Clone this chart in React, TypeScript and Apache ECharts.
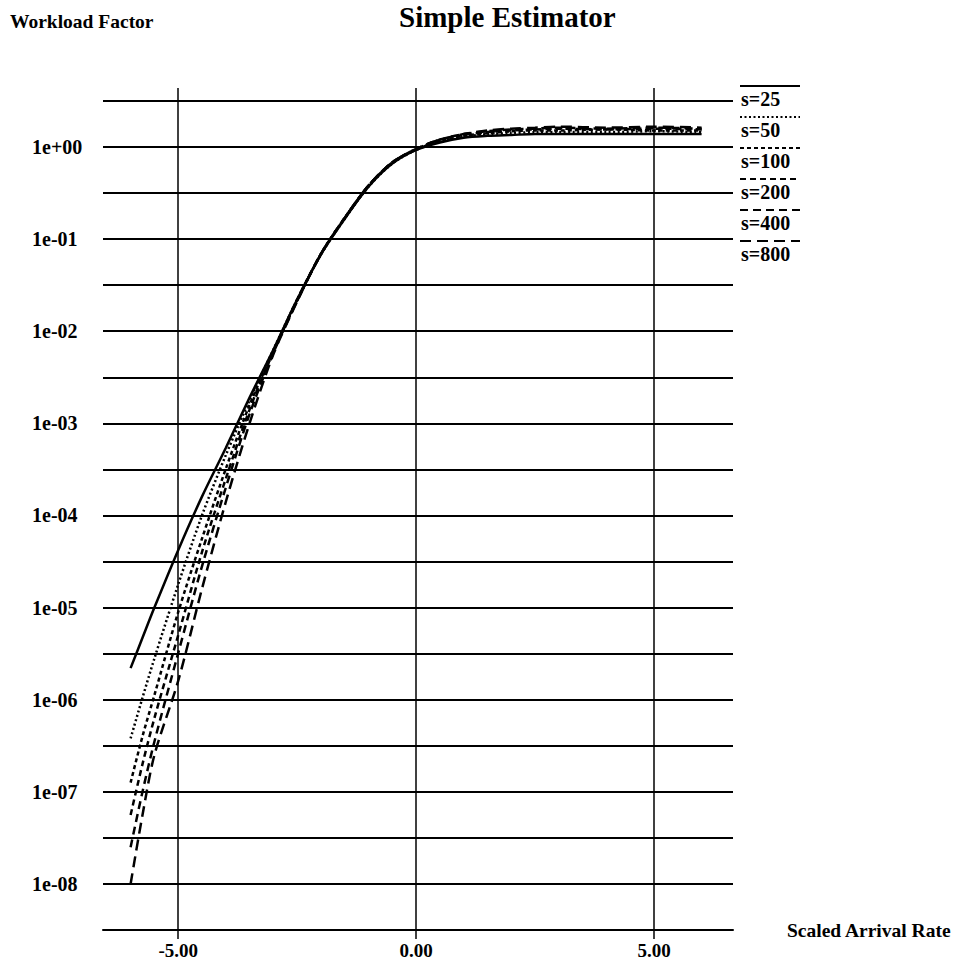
import React, { useEffect, useRef } from 'react';
import * as echarts from 'echarts';

// Scaled arrival rate (x)
const X_RATE = [-6, -5.75, -5.5, -5, -4.5, -4, -3.5, -3, -2.5, -2, -1.5, -1, -0.5, 0, 0.5, 1, 1.5, 2, 2.5, 3, 4, 5, 6];

// Workload factor for each s
const S25 = [2.2e-6, 4.7e-6, 1.0e-5, 4.2e-5, 1.6e-4, 5.4e-4, 1.9e-3, 6.3e-3, 2.2e-2, 6.8e-2, 0.166, 0.37, 0.66, 0.93, 1.12, 1.26, 1.32, 1.35, 1.38, 1.38, 1.38, 1.38, 1.38];
const S50 = [3.8e-7, 1.05e-6, 2.8e-6, 1.78e-5, 1.0e-4, 4.5e-4, 1.78e-3, 6.3e-3, 2.2e-2, 6.8e-2, 0.166, 0.37, 0.66, 0.93, 1.15, 1.29, 1.38, 1.41, 1.45, 1.45, 1.45, 1.48, 1.45];
const S100 = [1.26e-7, 4.0e-7, 1.12e-6, 8.9e-6, 5.6e-5, 3.2e-4, 1.58e-3, 6.0e-3, 2.14e-2, 6.9e-2, 0.17, 0.38, 0.68, 0.93, 1.17, 1.32, 1.41, 1.48, 1.51, 1.51, 1.55, 1.51, 1.51];
const S200 = [5.6e-8, 2.0e-7, 6.3e-7, 5.0e-6, 4.0e-5, 2.5e-4, 1.41e-3, 6.0e-3, 2.2e-2, 6.9e-2, 0.17, 0.38, 0.68, 0.95, 1.2, 1.35, 1.45, 1.51, 1.55, 1.58, 1.55, 1.58, 1.55];
const S400 = [2.5e-8, 1.0e-7, 3.5e-7, 3.2e-6, 2.8e-5, 2.0e-4, 1.26e-3, 5.8e-3, 2.14e-2, 6.9e-2, 0.17, 0.38, 0.68, 0.95, 1.2, 1.38, 1.48, 1.55, 1.58, 1.62, 1.58, 1.62, 1.58];
const S800 = [1.0e-8, 5.6e-8, 2.5e-7, 1.6e-6, 1.6e-5, 1.4e-4, 1.0e-3, 5.6e-3, 2.1e-2, 6.9e-2, 0.17, 0.38, 0.68, 0.95, 1.2, 1.38, 1.51, 1.58, 1.62, 1.66, 1.62, 1.66, 1.62];

const SERIES_NAMES = ['s=25', 's=50', 's=100', 's=200', 's=400', 's=800'];
const SERIES_VALUES = [S25, S50, S100, S200, S400, S800];

// Axis ticks
const X_TICKS = [-5, 0, 5];
const Y_GRID_EXPONENTS = [-8.5, -8, -7.5, -7, -6.5, -6, -5.5, -5, -4.5, -4, -3.5, -3, -2.5, -2, -1.5, -1, -0.5, 0, 0.5];
const Y_LABEL_EXPONENTS = [-8, -7, -6, -5, -4, -3, -2, -1, 0];

const FONT = '"Liberation Serif", "Times New Roman", serif';
const DASHES: (string | number[])[] = ['solid', [2, 2.5], [4, 3], [6, 4], [8, 5], [11, 6]];

function expLabel(v: number): string {
  if (Math.abs(v) < 1e-9) return '1e+00';
  const n = Math.round(-v);
  return '1e-' + String(n).padStart(2, '0');
}

export default function App() {
  const ref = useRef<HTMLDivElement>(null);
  useEffect(() => {
    document.body.style.margin = '0';
    if (!ref.current) return;
    const chart = echarts.init(ref.current, null, { renderer: 'svg' });

    const series = SERIES_NAMES.map((name, i) => ({
      name,
      type: 'line',
      showSymbol: false,
      smooth: 0.3,
      data: X_RATE.map((x, j) => [x, Math.log10(SERIES_VALUES[i][j])]),
      lineStyle: { color: '#000', width: 2.5, type: DASHES[i] },
      itemStyle: { color: '#000' },
    }));

    const legendGraphics: any[] = [];
    SERIES_NAMES.forEach((name, i) => {
      const y = 86 + i * 31;
      legendGraphics.push({
        type: 'line',
        shape: { x1: 740, y1: y, x2: 800, y2: y },
        style: { stroke: '#000', lineWidth: 2, lineDash: DASHES[i] === 'solid' ? null : DASHES[i] },
      });
      legendGraphics.push({
        type: 'text',
        x: 741,
        y: y + 13,
        style: {
          text: name,
          fontFamily: FONT,
          fontSize: 20,
          fontWeight: 'bold',
          fill: '#000',
          verticalAlign: 'middle',
          align: 'left',
        },
      });
    });

    chart.setOption({
      animation: false,
      backgroundColor: '#fff',
      title: [
        {
          text: 'Simple Estimator',
          left: 399,
          top: 2,
          padding: 0,
          textStyle: { fontFamily: FONT, fontSize: 29, fontWeight: 'bold', color: '#000' },
        },
        {
          text: 'Workload Factor',
          left: 10,
          top: 11,
          padding: 0,
          textStyle: { fontFamily: FONT, fontSize: 19.5, fontWeight: 'bold', color: '#000' },
        },
      ],
      grid: { left: 103, right: 226, top: 88, bottom: 29, containLabel: false },
      xAxis: {
        type: 'value',
        min: -6.58,
        max: 6.66,
        name: 'Scaled Arrival Rate',
        nameLocation: 'end',
        nameGap: 54,
        nameTextStyle: { fontFamily: FONT, fontSize: 19.5, fontWeight: 'bold', color: '#000', align: 'left', verticalAlign: 'middle', padding: [6, 0, 0, 0] },
        axisLine: { show: true, onZero: false, lineStyle: { color: '#000', width: 2 } },
        axisTick: { show: true, customValues: X_TICKS, length: 9, lineStyle: { color: '#000', width: 1.5 } },
        axisLabel: {
          customValues: X_TICKS,
          formatter: (v: number) => v.toFixed(2),
          fontFamily: FONT,
          fontSize: 19,
          fontWeight: 'bold',
          color: '#000',
          margin: 11,
        },
        splitLine: { show: true, lineStyle: { color: '#000', width: 1.5 } },
      },
      yAxis: {
        type: 'value',
        min: -8.5,
        max: 0.64,
        axisLine: { show: false, onZero: false },
        axisTick: { show: false, customValues: Y_GRID_EXPONENTS },
        axisLabel: {
          customValues: Y_LABEL_EXPONENTS,
          formatter: (v: number) => expLabel(v),
          fontFamily: FONT,
          fontSize: 20,
          fontWeight: 'bold',
          color: '#000',
          align: 'left',
          margin: 71,
        },
        splitLine: { show: true, lineStyle: { color: '#000', width: 2 } },
      },
      graphic: legendGraphics,
      series,
    });
    return () => chart.dispose();
  }, []);
  return <div ref={ref} style={{ width: 959, height: 960 }} />;
}
